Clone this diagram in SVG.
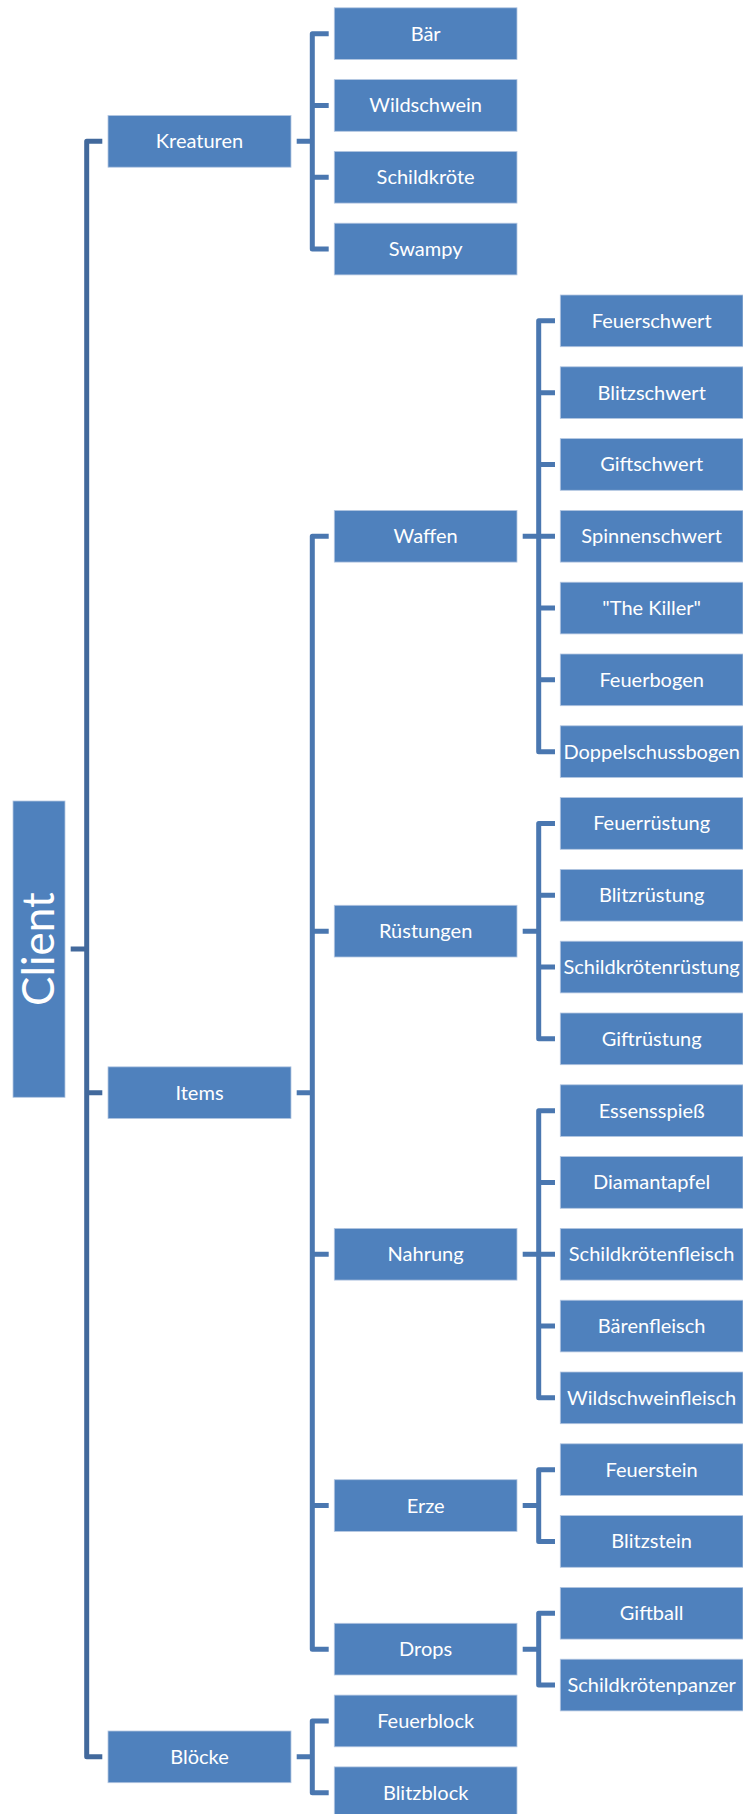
<svg xmlns="http://www.w3.org/2000/svg" width="743" height="1814" viewBox="0 0 743 1814">
<style>
.box{fill:#4F81BD;stroke:#B4C7E2;stroke-width:0.8}
.t{font-family:Lato,"Liberation Sans",sans-serif;font-size:20px;fill:#FFFFFF;text-anchor:middle}
.big{font-family:Lato,"Liberation Sans",sans-serif;font-size:44px;fill:#FFFFFF;text-anchor:middle}
.c0{fill:none;stroke:#42699C;stroke-width:5;stroke-linejoin:round}
.c1{fill:none;stroke:#4A77B0;stroke-width:5;stroke-linejoin:round}
</style>
<rect width="743" height="1814" fill="#FFFFFF"/>
<g id="connectors">
<path class="c0" d="M70.7 949.1H86.7M102.3 141.35H86.7V1756.85H102.3M86.7 1092.7H102.3"/>
<path class="c1" d="M296.7 141.35H312.3M328.7 33.65H312.3V249.05H328.7M312.3 105.45H328.7M312.3 177.25H328.7"/>
<path class="c1" d="M296.7 1092.7H312.3M328.7 536.25H312.3V1649.15H328.7M312.3 931.15H328.7M312.3 1254.25H328.7M312.3 1505.55H328.7"/>
<path class="c1" d="M296.7 1756.85H312.3M328.7 1720.95H312.3V1792.75H328.7"/>
<path class="c1" d="M522.7 536.25H538.7M555 320.85H538.7V751.65H555M538.7 392.65H555M538.7 464.45H555M538.7 536.25H555M538.7 608.05H555M538.7 679.85H555"/>
<path class="c1" d="M522.7 931.15H538.7M555 823.45H538.7V1038.85H555M538.7 895.25H555M538.7 967.05H555"/>
<path class="c1" d="M522.7 1254.25H538.7M555 1110.65H538.7V1397.85H555M538.7 1182.45H555M538.7 1254.25H555M538.7 1326.05H555"/>
<path class="c1" d="M522.7 1505.55H538.7M555 1469.65H538.7V1541.45H555"/>
<path class="c1" d="M522.7 1649.15H538.7M555 1613.25H538.7V1685.05H555"/>
</g>
<g id="client"><rect class="box" x="13" y="801" width="52" height="296.3"/><text class="big" transform="translate(54 949.1) rotate(-90)" x="0" y="0">Client</text></g>
<g id="kreaturen"><rect class="box" x="108" y="115.5" width="183" height="51.7"/><text class="t" x="199.5" y="148.35">Kreaturen</text></g>
<g id="items"><rect class="box" x="108" y="1066.85" width="183" height="51.7"/><text class="t" x="199.5" y="1099.7">Items</text></g>
<g id="bloecke"><rect class="box" x="108" y="1731" width="183" height="51.7"/><text class="t" x="199.5" y="1763.85">Blöcke</text></g>
<g id="baer"><rect class="box" x="334.3" y="7.8" width="182.7" height="51.7"/><text class="t" x="425.65" y="40.65">Bär</text></g>
<g id="wildschwein"><rect class="box" x="334.3" y="79.6" width="182.7" height="51.7"/><text class="t" x="425.65" y="112.45">Wildschwein</text></g>
<g id="schildkroete"><rect class="box" x="334.3" y="151.4" width="182.7" height="51.7"/><text class="t" x="425.65" y="184.25">Schildkröte</text></g>
<g id="swampy"><rect class="box" x="334.3" y="223.2" width="182.7" height="51.7"/><text class="t" x="425.65" y="256.05">Swampy</text></g>
<g id="waffen"><rect class="box" x="334.3" y="510.4" width="182.7" height="51.7"/><text class="t" x="425.65" y="543.25">Waffen</text></g>
<g id="ruestungen"><rect class="box" x="334.3" y="905.3" width="182.7" height="51.7"/><text class="t" x="425.65" y="938.15">Rüstungen</text></g>
<g id="nahrung"><rect class="box" x="334.3" y="1228.4" width="182.7" height="51.7"/><text class="t" x="425.65" y="1261.25">Nahrung</text></g>
<g id="erze"><rect class="box" x="334.3" y="1479.7" width="182.7" height="51.7"/><text class="t" x="425.65" y="1512.55">Erze</text></g>
<g id="drops"><rect class="box" x="334.3" y="1623.3" width="182.7" height="51.7"/><text class="t" x="425.65" y="1656.15">Drops</text></g>
<g id="feuerblock"><rect class="box" x="334.3" y="1695.1" width="182.7" height="51.7"/><text class="t" x="425.65" y="1727.95">Feuerblock</text></g>
<g id="blitzblock"><rect class="box" x="334.3" y="1766.9" width="182.7" height="51.7"/><text class="t" x="425.65" y="1799.75">Blitzblock</text></g>
<g id="feuerschwert"><rect class="box" x="560.3" y="295" width="182.7" height="51.7"/><text class="t" x="651.65" y="327.85">Feuerschwert</text></g>
<g id="blitzschwert"><rect class="box" x="560.3" y="366.8" width="182.7" height="51.7"/><text class="t" x="651.65" y="399.65">Blitzschwert</text></g>
<g id="giftschwert"><rect class="box" x="560.3" y="438.6" width="182.7" height="51.7"/><text class="t" x="651.65" y="471.45">Giftschwert</text></g>
<g id="spinnenschwert"><rect class="box" x="560.3" y="510.4" width="182.7" height="51.7"/><text class="t" x="651.65" y="543.25">Spinnenschwert</text></g>
<g id="thekiller"><rect class="box" x="560.3" y="582.2" width="182.7" height="51.7"/><text class="t" x="651.65" y="615.05">"The Killer"</text></g>
<g id="feuerbogen"><rect class="box" x="560.3" y="654" width="182.7" height="51.7"/><text class="t" x="651.65" y="686.85">Feuerbogen</text></g>
<g id="doppelschussbogen"><rect class="box" x="560.3" y="725.8" width="182.7" height="51.7"/><text class="t" x="651.65" y="758.65">Doppelschussbogen</text></g>
<g id="feuerruestung"><rect class="box" x="560.3" y="797.6" width="182.7" height="51.7"/><text class="t" x="651.65" y="830.45">Feuerrüstung</text></g>
<g id="blitzruestung"><rect class="box" x="560.3" y="869.4" width="182.7" height="51.7"/><text class="t" x="651.65" y="902.25">Blitzrüstung</text></g>
<g id="schildkroetenruestung"><rect class="box" x="560.3" y="941.2" width="182.7" height="51.7"/><text class="t" x="651.65" y="974.05">Schildkrötenrüstung</text></g>
<g id="giftruestung"><rect class="box" x="560.3" y="1013" width="182.7" height="51.7"/><text class="t" x="651.65" y="1045.85">Giftrüstung</text></g>
<g id="essensspiess"><rect class="box" x="560.3" y="1084.8" width="182.7" height="51.7"/><text class="t" x="651.65" y="1117.65">Essensspieß</text></g>
<g id="diamantapfel"><rect class="box" x="560.3" y="1156.6" width="182.7" height="51.7"/><text class="t" x="651.65" y="1189.45">Diamantapfel</text></g>
<g id="schildkroetenfleisch"><rect class="box" x="560.3" y="1228.4" width="182.7" height="51.7"/><text class="t" x="651.65" y="1261.25">Schildkrötenfleisch</text></g>
<g id="baerenfleisch"><rect class="box" x="560.3" y="1300.2" width="182.7" height="51.7"/><text class="t" x="651.65" y="1333.05">Bärenfleisch</text></g>
<g id="wildschweinfleisch"><rect class="box" x="560.3" y="1372" width="182.7" height="51.7"/><text class="t" x="651.65" y="1404.85">Wildschweinfleisch</text></g>
<g id="feuerstein"><rect class="box" x="560.3" y="1443.8" width="182.7" height="51.7"/><text class="t" x="651.65" y="1476.65">Feuerstein</text></g>
<g id="blitzstein"><rect class="box" x="560.3" y="1515.6" width="182.7" height="51.7"/><text class="t" x="651.65" y="1548.45">Blitzstein</text></g>
<g id="giftball"><rect class="box" x="560.3" y="1587.4" width="182.7" height="51.7"/><text class="t" x="651.65" y="1620.25">Giftball</text></g>
<g id="schildkroetenpanzer"><rect class="box" x="560.3" y="1659.2" width="182.7" height="51.7"/><text class="t" x="651.65" y="1692.05">Schildkrötenpanzer</text></g>
</svg>
